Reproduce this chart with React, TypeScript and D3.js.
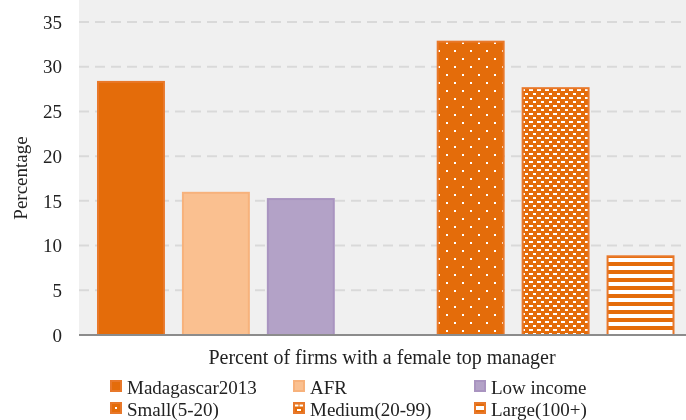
import React from "react";
import * as d3 from "d3";

const categories = ["Madagascar2013", "AFR", "Low income", "", "Small(5-20)", "Medium(20-99)", "Large(100+)"];
const values = [28.3, 15.9, 15.2, null, 32.8, 27.6, 8.8];
const fills = ["#E46C0A", "#FAC090", "#B3A2C7", "none", "url(#pSmall)", "url(#pMedium)", "url(#pLarge)"];
const legendFills = ["#E46C0A", "#FAC090", "#B3A2C7", "none", "url(#lSmall)", "url(#lMedium)", "url(#lLarge)"];
const strokes = ["#E8782A", "#F7B27C", "#A994C0", "none", "#E8782A", "#E8782A", "#E8782A"];
const yTicks = [0, 5, 10, 15, 20, 25, 30, 35];
const legendRows = [
  ["Madagascar2013", "AFR", "Low income"],
  ["Small(5-20)", "Medium(20-99)", "Large(100+)"],
];

const W = 686, H = 420;
const FONT = "'Liberation Serif', 'DejaVu Serif', serif";

export default function App() {
  const y = d3.scaleLinear().domain([0, 35]).range([335, 22]);
  const x = d3.scaleBand<string>().domain(categories.map((c, i) => String(i))).range([88.5, 683]).paddingInner(0.2).paddingOuter(0.1);
  const plotLeft = 79, plotRight = 686;
  const legendX = [110, 293, 474];
  const legendY = [387, 409];
  return (
    <div style={{ position: "fixed", left: 0, top: 0, width: W, height: H, overflow: "hidden" }}>
      <svg width={W} height={H} style={{ display: "block" }}>
        <defs>
          <pattern id="pSmall" width={16} height={16} patternUnits="userSpaceOnUse">
            <rect width={16} height={16} fill="#E46C0A" />
            <rect x={6} y={2} width={2} height={2} fill="#fff" />
            <rect x={14} y={10} width={2} height={2} fill="#fff" />
          </pattern>
          <pattern id="pMedium" width={8} height={8} patternUnits="userSpaceOnUse">
            <rect width={8} height={8} fill="#E46C0A" />
            <rect x={1} y={1} width={4} height={2} fill="#fff" />
            <rect x={5} y={5} width={4} height={2} fill="#fff" />
          </pattern>
          <pattern id="pLarge" width={8} height={8} patternUnits="userSpaceOnUse">
            <rect width={8} height={8} fill="#E46C0A" />
            <rect x={0} y={2} width={8} height={4} fill="#fff" />
          </pattern>
          <pattern id="lSmall" width={1} height={1} patternContentUnits="objectBoundingBox">
            <rect width={1} height={1} fill="#E46C0A" />
            <rect x={0.4} y={0.4} width={0.2} height={0.2} fill="#fff" />
          </pattern>
          <pattern id="lMedium" width={1} height={1} patternContentUnits="objectBoundingBox">
            <rect width={1} height={1} fill="#E46C0A" />
            <rect x={0.1} y={0.15} width={0.35} height={0.2} fill="#fff" />
            <rect x={0.55} y={0.15} width={0.35} height={0.2} fill="#fff" />
            <rect x={0.3} y={0.6} width={0.4} height={0.2} fill="#fff" />
          </pattern>
          <pattern id="lLarge" width={1} height={1} patternContentUnits="objectBoundingBox">
            <rect width={1} height={1} fill="#E46C0A" />
            <rect x={0} y={0.3} width={1} height={0.4} fill="#fff" />
          </pattern>
        </defs>
        <rect x={plotLeft} y={0} width={plotRight - plotLeft} height={335} fill="#F0F0F0" />
        {yTicks.map((t) => (
          <g key={t}>
            {t > 0 && (
              <line x1={plotLeft} x2={plotRight} y1={y(t)} y2={y(t)} stroke="#D9D9D9" strokeWidth={2} strokeDasharray="10,6" />
            )}
            <text x={62} y={y(t)} dy="0.35em" textAnchor="end" fontFamily={FONT} fontSize={19} fill="#222">{t}</text>
          </g>
        ))}
        {values.map((v, i) =>
          v == null ? null : (
            <rect key={i} x={x(String(i))! + 1} y={y(v)} width={x.bandwidth() - 2} height={y(0) - y(v)}
              fill={fills[i]} stroke={strokes[i]} strokeWidth={2} />
          )
        )}
        <line x1={plotLeft} x2={plotRight} y1={y(0)} y2={y(0)} stroke="#8C8C8C" strokeWidth={2} />
        <text transform={`translate(27,178) rotate(-90)`} textAnchor="middle" fontFamily={FONT} fontSize={19} fill="#222">Percentage</text>
        <text x={382} y={364} textAnchor="middle" fontFamily={FONT} fontSize={20} fill="#222">Percent of firms with a female top manager</text>
        {legendRows.map((row, r) =>
          row.map((name, c) => {
            const i = categories.indexOf(name);
            return (
              <g key={name}>
                <rect x={legendX[c] + 1} y={legendY[r] - 6} width={10} height={10} fill={legendFills[i]} stroke={strokes[i]} strokeWidth={2} />
                <text x={legendX[c] + 17} y={legendY[r]} dy="0.35em" fontFamily={FONT} fontSize={19} fill="#222">{name}</text>
              </g>
            );
          })
        )}
      </svg>
    </div>
  );
}
